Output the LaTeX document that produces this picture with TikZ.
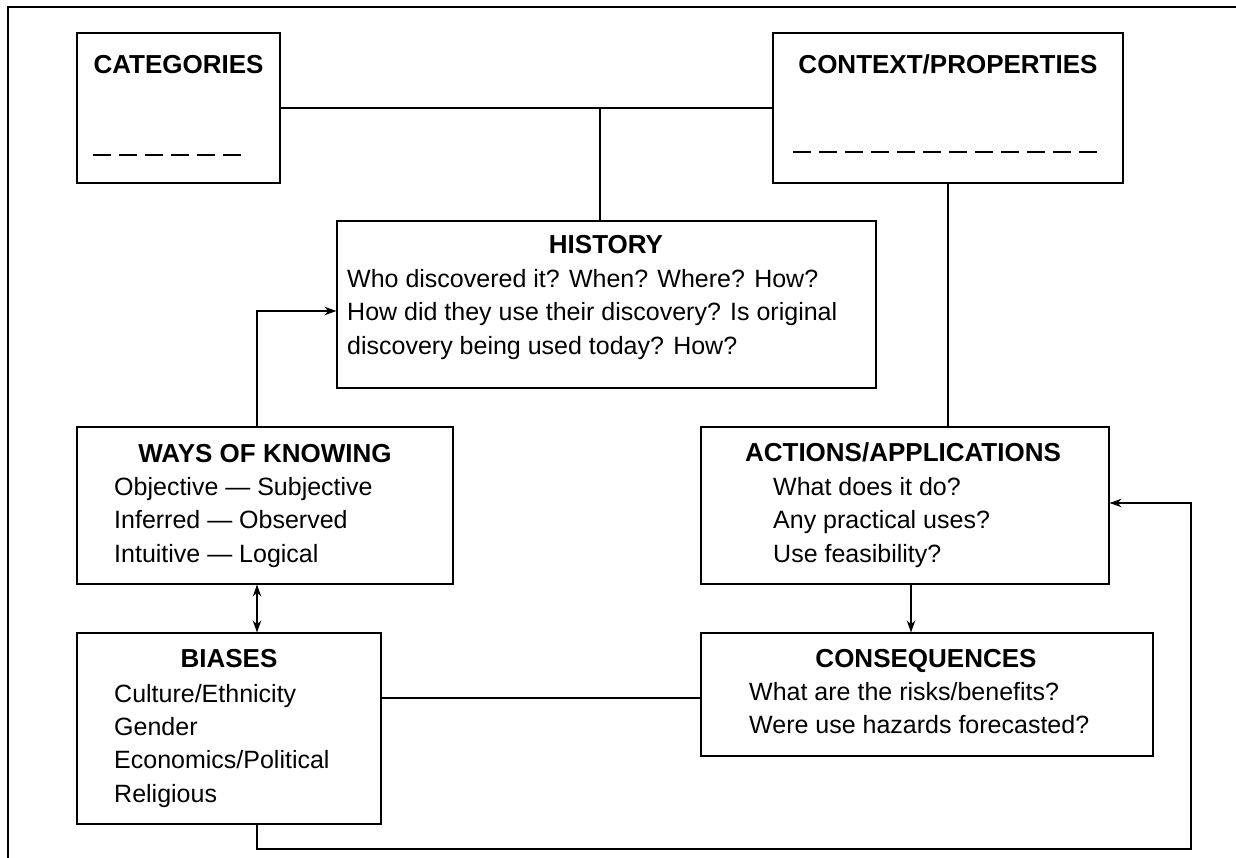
\documentclass[tikz,border=0pt]{standalone}
\usepackage{fontspec}
\setmainfont{Liberation Sans}
\usetikzlibrary{arrows.meta}
\begin{document}
\begin{tikzpicture}[x=1pt,y=-1pt,
  box/.style={draw, line width=1.1pt, rectangle, inner sep=0pt},
  ttl/.style={anchor=base, font=\fontsize{26}{30}\selectfont\bfseries, inner sep=0pt},
  txt/.style={anchor=base west, font=\fontsize{25}{30}\selectfont, inner sep=0pt},
  conn/.style={line width=1.1pt},
  tip/.style={-{Stealth[length=12pt,width=8.5pt]}},
  tips/.style={{Stealth[length=12pt,width=8.5pt]}-{Stealth[length=12pt,width=8.5pt]}},
  blank/.style={line width=1.4pt, dash pattern=on 18pt off 8pt},
]
\useasboundingbox (0,0) rectangle (1236,858);
% outer frame (top and left only)
\draw[line width=2.5pt] (8,858) -- (8,7) -- (1236,7);

% boxes
\node[box, minimum width=203pt, minimum height=150pt] (cat)  at (178.5,108) {};
\node[box, minimum width=350pt, minimum height=150pt] (ctx)  at (948,108) {};
\node[box, minimum width=539pt, minimum height=167pt] (hist) at (606.5,304.5) {};
\node[box, minimum width=376pt, minimum height=157pt] (wok)  at (265,505.5) {};
\node[box, minimum width=408pt, minimum height=157pt] (act)  at (905,505.5) {};
\node[box, minimum width=304pt, minimum height=191pt] (bias) at (229,728.5) {};
\node[box, minimum width=452pt, minimum height=123pt] (cons) at (927,694.5) {};

% titles
\node[ttl] (catT)  at (178.5,74) {CATEGORIES};
\node[ttl] (ctxT)  at (948,74) {CONTEXT/PROPERTIES};
\node[ttl] (histT) at (606,254) {HISTORY};
\node[ttl] (wokT)  at (265,462) {WAYS OF KNOWING};
\node[ttl] (actT)  at (903,461) {ACTIONS/APPLICATIONS};
\node[ttl] (biasT) at (229,667) {BIASES};
\node[ttl] (consT) at (926,667) {CONSEQUENCES};

% blanks
\coordinate (catB1) at (93,155);
\coordinate (catB2) at (243,155);
\draw[blank] (catB1) -- (catB2);
\coordinate (ctxB1) at (793,152);
\coordinate (ctxB2) at (1097,152);
\draw[blank] (ctxB1) -- (ctxB2);

% body texts
\node[txt] (h1) at (347,288) {Who discovered it? When? Where? How?};
\node[txt] (h2) at (347,321) {How did they use their discovery? Is original};
\node[txt] (h3) at (347,354) {discovery being used today? How?};

\node[txt] (w1) at (114,495) {Objective — Subjective};
\node[txt] (w2) at (114,528) {Inferred — Observed};
\node[txt] (w3) at (114,562) {Intuitive — Logical};

\node[txt] (a1) at (773,495) {What does it do?};
\node[txt] (a2) at (773,528) {Any practical uses?};
\node[txt] (a3) at (773,562) {Use feasibility?};

\node[txt] (b1) at (114,702) {Culture/Ethnicity};
\node[txt] (b2) at (114,735) {Gender};
\node[txt] (b3) at (114,768) {Economics/Political};
\node[txt] (b4) at (114,802) {Religious};

\node[txt] (c1) at (749,700) {What are the risks/benefits?};
\node[txt] (c2) at (749,733) {Were use hazards forecasted?};

% connectors
\draw[conn] (cat.east) -- (ctx.west);
\coordinate (j1) at (600,108);
\draw[conn] (j1) -- (j1 |- hist.north);
\draw[conn] (ctx.south) -- (ctx.south |- act.north);

\coordinate (kx) at (257,311);
\draw[conn, tip] (kx |- wok.north) -- (kx) -- (kx -| hist.west);
\draw[conn, tips] (kx |- wok.south) -- (kx |- bias.north);

\coordinate (bc) at (0,698);
\draw[conn] (bias.east |- bc) -- (cons.west |- bc);

\coordinate (ac) at (911,0);
\draw[conn, tip] (ac |- act.south) -- (ac |- cons.north);

\coordinate (lb) at (1191,849);
\coordinate (la) at (1191,503);
\draw[conn, tip] (kx |- bias.south) -- (kx |- lb) -- (lb) -- (la) -- (la -| act.east);
\end{tikzpicture}
\end{document}
